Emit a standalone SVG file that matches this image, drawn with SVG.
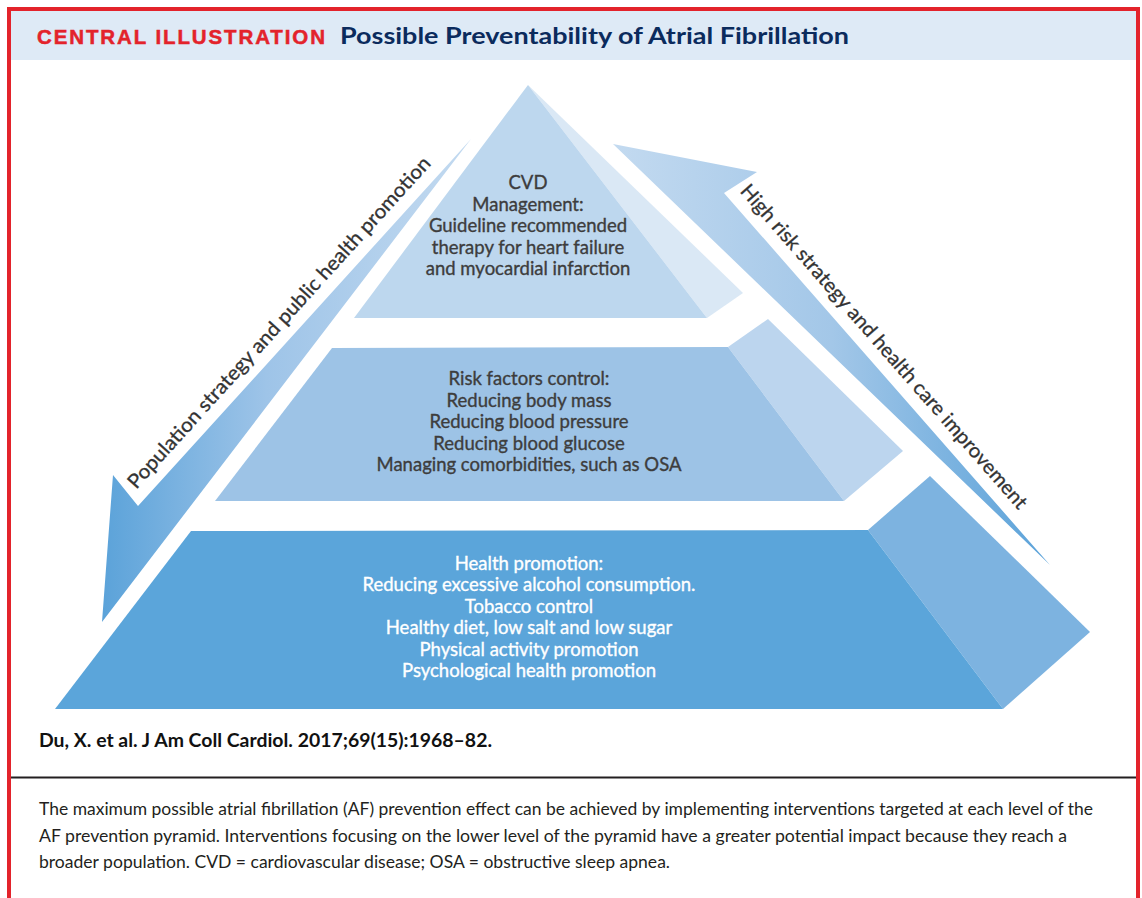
<svg xmlns="http://www.w3.org/2000/svg" width="1142" height="898" viewBox="0 0 1142 898">
  <style>
    .lvl { font-family: Lato, "Open Sans", "Liberation Sans", sans-serif; font-size: 18.5px; text-anchor: middle; fill: #3d3d3d; stroke: #3d3d3d; stroke-width: 0.35px; }
    .lvl.light { fill: #ffffff; stroke: #ffffff; }
    .side { font-family: Lato, "Open Sans", "Liberation Sans", sans-serif; font-size: 20px; text-anchor: middle; fill: #333333; stroke: #333333; stroke-width: 0.3px; }
    .cap { font-family: Lato, "Open Sans", "Liberation Sans", sans-serif; font-size: 17px; fill: #231f20; }
  </style>
  <defs>
    <linearGradient id="gradPop" gradientUnits="userSpaceOnUse" x1="100" y1="0" x2="470" y2="0">
      <stop offset="0" stop-color="#5aa2d9"/>
      <stop offset="0.45" stop-color="#9ec4e8"/>
      <stop offset="1" stop-color="#c3daf0"/>
    </linearGradient>
    <linearGradient id="gradRisk" gradientUnits="userSpaceOnUse" x1="613" y1="0" x2="1050" y2="0">
      <stop offset="0" stop-color="#c3daf0"/>
      <stop offset="0.5" stop-color="#a3c7e8"/>
      <stop offset="1" stop-color="#5aa2d9"/>
    </linearGradient>
  </defs>

  <rect width="1142" height="898" fill="#ffffff"/>

  <!-- header band and frame -->
  <rect x="11" y="11" width="1125" height="49" fill="#deeaf6"/>
  <path d="M9,900 V9 H1138 V900" fill="none" stroke="#e3232b" stroke-width="4"/>
  <text x="37" y="44" font-family="'Liberation Sans', Arial, sans-serif" font-weight="bold" font-size="20.5" fill="#e3232b" stroke="#e3232b" stroke-width="0.5" textLength="288" lengthAdjust="spacing">CENTRAL ILLUSTRATION</text>
  <text x="340" y="44" font-family="Lato, 'Open Sans', sans-serif" font-weight="bold" font-size="22" fill="#0b2b5d" textLength="509" lengthAdjust="spacingAndGlyphs">Possible Preventability of Atrial Fibrillation</text>

  <!-- strategy arrows -->
  <g id="connectors">
    <polygon id="arrow-population" points="471,139 138,506 113,475 102,622" fill="url(#gradPop)"/>
    <polygon id="arrow-highrisk" points="613,144 757,172 724,193 1050,565" fill="url(#gradRisk)"/>
  </g>

  <!-- top level: CVD management -->
  <g id="level-cvd">
    <polygon points="528,85 743,293 707,318" fill="#dae8f5"/>
    <polygon points="528,85 707,318 354,318" fill="#bdd7ee"/>
    <text class="lvl" x="528" y="189">CVD</text>
    <text class="lvl" x="528" y="211">Management:</text>
    <text class="lvl" x="528" y="232">Guideline recommended</text>
    <text class="lvl" x="528" y="254">therapy for heart failure</text>
    <text class="lvl" x="528" y="275">and myocardial infarction</text>
  </g>

  <!-- middle level: risk factors control -->
  <g id="level-risk">
    <polygon points="728,347 768,319 903,451 844,501" fill="#bcd5ee"/>
    <polygon points="332,348 728,347 844,501 215,501" fill="#9dc3e6"/>
    <text class="lvl" x="529" y="385">Risk factors control:</text>
    <text class="lvl" x="529" y="407">Reducing body mass</text>
    <text class="lvl" x="529" y="428">Reducing blood pressure</text>
    <text class="lvl" x="529" y="450">Reducing blood glucose</text>
    <text class="lvl" x="529" y="471">Managing comorbidities, such as OSA</text>
  </g>

  <!-- bottom level: health promotion -->
  <g id="level-health">
    <polygon points="868,530 930,476 1090,632 1003,709" fill="#7db3e0"/>
    <polygon points="191,531 868,530 1003,709 55,709" fill="#5ba5da"/>
    <text class="lvl light" x="529" y="570">Health promotion:</text>
    <text class="lvl light" x="529" y="591">Reducing excessive alcohol consumption.</text>
    <text class="lvl light" x="529" y="613">Tobacco control</text>
    <text class="lvl light" x="529" y="634">Healthy diet, low salt and low sugar</text>
    <text class="lvl light" x="529" y="656">Physical activity promotion</text>
    <text class="lvl light" x="529" y="677">Psychological health promotion</text>
  </g>

  <!-- arrow labels -->
  <g id="label-population">
    <text class="side" transform="translate(284,327) rotate(-47.8)" textLength="440" lengthAdjust="spacingAndGlyphs">Population strategy and public health promotion</text>
  </g>
  <g id="label-highrisk">
    <text class="side" transform="translate(879,351) rotate(48.8)" textLength="424" lengthAdjust="spacingAndGlyphs">High risk strategy and health care improvement</text>
  </g>

  <!-- citation and legend -->
  <text x="39" y="747" font-family="Lato, 'Open Sans', sans-serif" font-weight="bold" font-size="18" fill="#111111" textLength="453" lengthAdjust="spacingAndGlyphs">Du, X. et al. J Am Coll Cardiol. 2017;69(15):1968–82.</text>
  <line x1="11" y1="777.5" x2="1136" y2="777.5" stroke="#231f20" stroke-width="2"/>
  <text class="cap" x="39" y="815" textLength="1054" lengthAdjust="spacingAndGlyphs">The maximum possible atrial fibrillation (AF) prevention effect can be achieved by implementing interventions targeted at each level of the</text>
  <text class="cap" x="39" y="842" textLength="1028" lengthAdjust="spacingAndGlyphs">AF prevention pyramid. Interventions focusing on the lower level of the pyramid have a greater potential impact because they reach a</text>
  <text class="cap" x="39" y="868" textLength="631" lengthAdjust="spacingAndGlyphs">broader population. CVD = cardiovascular disease; OSA = obstructive sleep apnea.</text>
</svg>
